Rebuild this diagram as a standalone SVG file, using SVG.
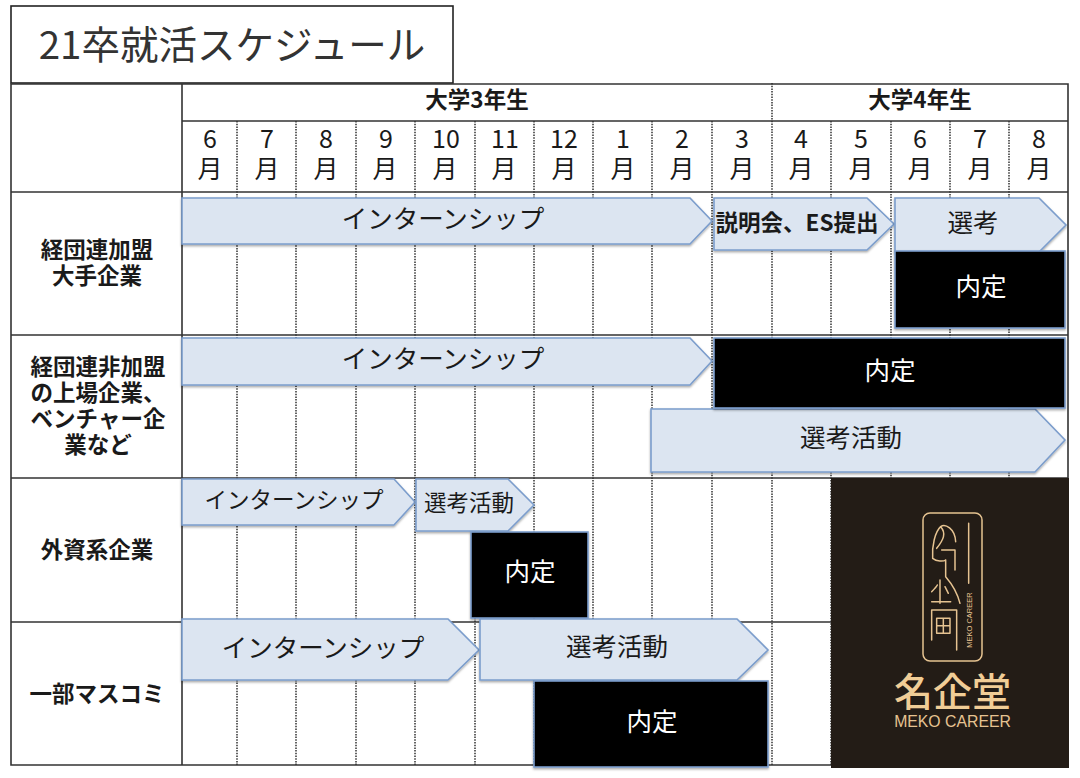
<svg xmlns="http://www.w3.org/2000/svg" width="1080" height="778" viewBox="0 0 1080 778">
<defs>
<filter id="sh" x="-5%" y="-10%" width="110%" height="125%"><feDropShadow dx="0" dy="1.5" stdDeviation="1.2" flood-color="#000" flood-opacity="0.35"/></filter>
</defs>
<style>
text{font-family:"Noto Sans CJK JP","Noto Sans",sans-serif;text-anchor:middle;fill:#1a1a1a}
.grid{stroke:#333;stroke-width:1.6;fill:none}
.dot{stroke:#222;stroke-width:1.4;stroke-dasharray:1.5 1.2;fill:none}
.a{fill:#dce5f1;stroke:#7b9dcc;stroke-width:1.6;filter:url(#sh)}
.k{fill:#000;stroke:#7b9dcc;stroke-width:1.6;filter:url(#sh)}
.h{font-size:22.5px;font-weight:700}
.m{font-size:25px}
.l{font-size:22.5px;font-weight:700}
.t{font-size:25.5px}
.s{font-size:22.5px}
.w{font-size:25.5px;fill:#fff}
.g{fill:none;stroke:#e6c391;stroke-width:1.5;stroke-linecap:round;stroke-linejoin:round}
</style>
<rect width="1080" height="778" fill="#fff"/>
<g id="title"><rect x="11" y="6" width="442" height="77" fill="#fff" stroke="#222" stroke-width="1.6"/><text x="232" y="59" font-size="38.5" style="fill:#333">21卒就活スケジュール</text></g>
<g id="connectors">
<path class="dot" d="M237 121V765M296 121V765M356 121V765M415 121V765M475 121V765M534 121V765M593 121V765M652 121V765M712 121V765M772 83V765M831 121V765M891 121V765M950 121V765M1009 121V765"/>
<path class="grid" d="M11 84H1068V765H11ZM182 84V765M182 121H1068M11 192H1068M11 335H1068M11 478H1068M11 622H831"/>
</g>
<g id="header">
<text class="h" x="477" y="108">大学3年生</text><text class="h" x="920" y="108">大学4年生</text>
<text class="m" x="210" y="148">6</text><text class="m" x="210" y="178">月</text>
<text class="m" x="267" y="148">7</text><text class="m" x="267" y="178">月</text>
<text class="m" x="326" y="148">8</text><text class="m" x="326" y="178">月</text>
<text class="m" x="386" y="148">9</text><text class="m" x="385" y="178">月</text>
<text class="m" x="446" y="148">10</text><text class="m" x="445" y="178">月</text>
<text class="m" x="505" y="148">11</text><text class="m" x="504" y="178">月</text>
<text class="m" x="564" y="148">12</text><text class="m" x="564" y="178">月</text>
<text class="m" x="623" y="148">1</text><text class="m" x="623" y="178">月</text>
<text class="m" x="682" y="148">2</text><text class="m" x="682" y="178">月</text>
<text class="m" x="742" y="148">3</text><text class="m" x="742" y="178">月</text>
<text class="m" x="801" y="148">4</text><text class="m" x="801" y="178">月</text>
<text class="m" x="861" y="148">5</text><text class="m" x="861" y="178">月</text>
<text class="m" x="920" y="148">6</text><text class="m" x="920" y="178">月</text>
<text class="m" x="980" y="148">7</text><text class="m" x="980" y="178">月</text>
<text class="m" x="1039" y="148">8</text><text class="m" x="1039" y="178">月</text>
</g>
<g id="row-labels">
<text class="l" x="97" y="258">経団連加盟</text><text class="l" x="97" y="284">大手企業</text>
<text class="l" x="98" y="375">経団連非加盟</text><text class="l" x="98" y="401">の上場企業、</text><text class="l" x="98" y="427">ベンチャー企</text><text class="l" x="98" y="453">業など</text>
<text class="l" x="97" y="558">外資系企業</text>
<text class="l" x="97" y="702">一部マスコミ</text>
</g>
<g id="row1">
<g id="r1-intern"><path class="a" d="M182 198H690L712 221L690 244H182Z"/><text class="t" x="443" y="228">インターンシップ</text></g>
<g id="r1-setsumei"><path class="a" d="M714 198H867L894 224L867 250H714Z"/><text x="797" y="231" font-size="22.5" font-weight="700">説明会、ES提出</text></g>
<g id="r1-senko"><path class="a" d="M895 198H1039L1066 225L1039 252H895Z"/><text class="t" x="973" y="232">選考</text></g>
<g id="r1-naitei"><rect class="k" x="895" y="251" width="170" height="77"/><text class="w" x="981" y="296">内定</text></g>
</g>
<g id="row2">
<g id="r2-intern"><path class="a" d="M182 338H690L712 361L690 385H182Z"/><text class="t" x="443" y="368">インターンシップ</text></g>
<g id="r2-senko"><path class="a" d="M651 409H1035L1065 440L1035 472H651Z"/><text class="t" x="851" y="447">選考活動</text></g>
<g id="r2-naitei"><rect class="k" x="714" y="338" width="351" height="70"/><text class="w" x="890" y="380">内定</text></g>
</g>
<g id="row3">
<g id="r3-intern"><path class="a" d="M182 479H394L415 502L394 525H182Z"/><text class="s" x="294" y="508">インターンシップ</text></g>
<g id="r3-senko"><path class="a" d="M416 479H508L534 505L508 531H416Z"/><text class="s" x="469" y="511">選考活動</text></g>
<g id="r3-naitei"><rect class="k" x="471" y="532" width="117" height="86"/><text class="w" x="530" y="581">内定</text></g>
</g>
<g id="row4">
<g id="r4-intern"><path class="a" d="M182 619H448L479 650L448 680H182Z"/><text class="t" x="323" y="657">インターンシップ</text></g>
<g id="r4-senko"><path class="a" d="M480 619H737L768 650L737 680H480Z"/><text class="t" x="617" y="656">選考活動</text></g>
<g id="r4-naitei"><rect class="k" x="534" y="681" width="234" height="86"/><text class="w" x="652" y="731">内定</text></g>
</g>
<g id="logo">
<rect x="831" y="478" width="238" height="290" fill="#231c16"/>
<rect class="g" x="923" y="513" width="59" height="148" rx="7"/>
<g transform="translate(780 470) scale(.33333)" style="stroke-width:4.5" class="g">
<path style="stroke-width:4.5" d="M566 160V340M527 215C525 175 495 160 482 170C465 185 455 230 458 265C470 275 490 275 497 270M482 170C500 190 490 210 470 235M485 240H525V300M497 270V320C510 335 530 360 540 400M480 330V400M455 365C465 355 470 350 472 345M495 350L505 370M455 395H512M455 420H530M455 420V510M530 420V540M470 445H510V490H470ZM490 445V490M470 467H510"/>
</g>
<text x="972" y="620" font-size="7.5" transform="rotate(-90 972 620)" style="fill:#e6c391;font-family:'Liberation Sans',sans-serif">MEKO  CAREER</text>
<text x="952.5" y="706" font-size="39" font-weight="500" style="fill:#f1cd96">名企堂</text>
<text x="952.5" y="727" font-size="15.8" style="fill:#e6c391;font-family:'Liberation Sans',sans-serif">MEKO CAREER</text>
</g>
</svg>
